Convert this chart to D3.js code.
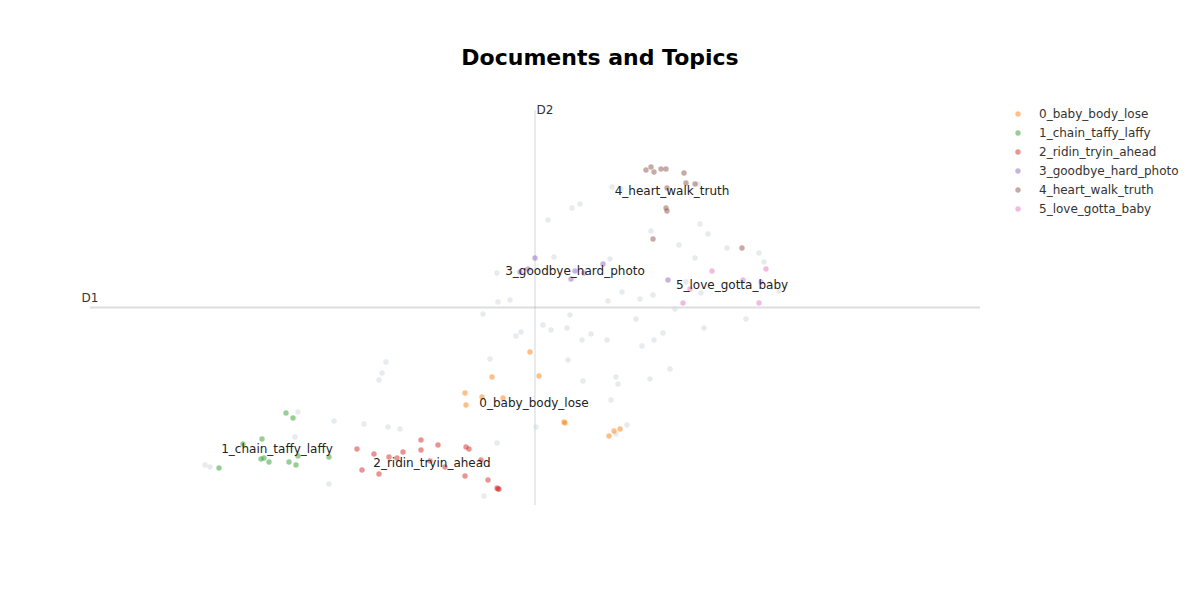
<!DOCTYPE html>
<html>
<head>
<meta charset="utf-8">
<script src="https://cdn.jsdelivr.net/npm/d3@7"></script>
<style>
  html, body { margin: 0; padding: 0; background: #fff; }
  svg { display: block; }
</style>
</head>
<body>
<svg id="chart" width="1200" height="600"></svg>
<script>
// ---------- data ----------
const topicNames = ["0_baby_body_lose", "1_chain_taffy_laffy", "2_ridin_tryin_ahead",
                    "3_goodbye_hard_photo", "4_heart_walk_truth", "5_love_gotta_baby"];
const topicColors = ["#ff7f0e", "#2ca02c", "#d62728", "#9467bd", "#8c564b", "#e377c2"];

// [D1, D2] per document
const topic0 = [[4.40,1.53],[4.49,1.29],[4.02,1.28],[3.75,1.12],[3.92,1.08],[4.13,1.07],[3.76,1.00],
                [4.74,0.83],[4.75,0.82],[5.30,0.76],[5.24,0.74],[5.19,0.69]];
const topic1 = [[1.96,0.92],[2.03,0.87],[1.72,0.66],[1.53,0.61],[1.71,0.46],[1.74,0.47],[1.79,0.43],
                [1.99,0.43],[2.06,0.40],[2.39,0.48],[1.29,0.37],[2.08,0.49]];
const topic2 = [[2.67,0.56],[2.84,0.51],[2.99,0.48],[3.07,0.47],[3.13,0.53],[3.31,0.65],[3.31,0.55],
                [3.48,0.60],[3.76,0.58],[3.79,0.56],[3.55,0.38],[3.40,0.44],[3.91,0.45],[2.72,0.35],
                [2.89,0.31],[3.75,0.29],[3.98,0.25],[4.07,0.17],[4.09,0.16],[4.08,0.16]];
const topic3 = [[4.45,2.47],[4.38,2.36],[4.30,2.33],[4.85,2.34],[4.81,2.26],[4.94,2.32],[5.13,2.41],[5.78,2.25]];
const topic4 = [[5.56,3.35],[5.61,3.38],[5.64,3.33],[5.71,3.36],[5.76,3.36],[5.94,3.32],[5.96,3.22],
                [6.05,3.21],[5.77,3.17],[5.76,2.97],[5.77,2.94],[5.63,2.66],[6.52,2.57]];
const topic5 = [[6.22,2.34],[6.76,2.36],[6.53,2.25],[6.71,2.23],[6.00,2.16],[5.93,2.02],[6.69,2.02]];
const outliers = [[2.08,0.93],[2.44,0.84],[2.74,0.81],[2.98,0.78],[3.10,0.76],[2.05,0.68],[1.15,0.40],
                  [1.20,0.38],[2.39,0.21],[4.07,0.62],[3.94,0.09],[3.93,1.91],[4.53,1.80],[4.61,1.75],
                  [4.80,1.90],[4.77,1.77],[4.31,1.73],[4.26,1.69],[5.01,1.71],[4.92,1.65],[5.17,1.65],
                  [5.46,1.86],[5.52,1.59],[5.64,1.65],[5.73,1.72],[5.80,1.36],[4.00,1.46],[4.78,1.45],
                  [4.93,1.24],[5.26,1.28],[5.28,1.21],[5.60,1.26],[5.21,1.05],[4.46,0.78],[5.37,0.80],
                  [5.26,0.71],[5.22,3.18],[5.31,3.16],[6.08,3.21],[4.90,3.01],[4.82,2.97],[4.58,2.85],
                  [6.10,2.81],[5.61,2.74],[6.18,2.71],[5.89,2.60],[6.37,2.57],[6.69,2.52],[6.74,2.43],
                  [6.05,2.47],[4.64,2.48],[5.20,2.46],[4.07,2.32],[5.32,2.13],[5.50,2.06],[5.63,2.10],
                  [5.18,2.04],[4.20,2.05],[4.08,2.03],[6.11,2.12],[5.96,2.23],[5.85,1.96],[6.89,2.14],
                  [6.56,1.86],[6.14,1.77],[2.96,1.43],[2.92,1.32],[2.89,1.25]];
const topicPoints = [topic0, topic1, topic2, topic3, topic4, topic5];
// label positions (topic centroids)
const labelX = [4.44, 1.87, 3.42, 4.85, 5.82, 6.42];
const labelY = [1.02, 0.56, 0.42, 2.34, 3.145, 2.20];
const xDomain = [0, 8.9];
const yDomain = [0, 3.95];

// ---------- drawing ----------
const svg = d3.select("#chart");
const font = "'DejaVu Sans', Verdana, sans-serif";
const x = d3.scaleLinear().domain(xDomain).range([90, 980]);
const y = d3.scaleLinear().domain(yDomain).range([505, 110]);
const xMid = (xDomain[0] + xDomain[1]) / 2;
const yMid = (yDomain[0] + yDomain[1]) / 2;

// title
svg.append("text").attr("x", 600).attr("y", 65).attr("text-anchor", "middle")
  .attr("font-family", font).attr("font-size", 22).attr("font-weight", "bold")
  .attr("fill", "#000").text("Documents and Topics");

// axis cross lines
svg.append("line").attr("x1", x(xMid)).attr("x2", x(xMid)).attr("y1", y(yDomain[0])).attr("y2", y(yDomain[1]))
  .attr("stroke", "#CFD8DC").attr("stroke-opacity", 0.5).attr("stroke-width", 2);
svg.append("line").attr("x1", x(xDomain[0])).attr("x2", x(xDomain[1])).attr("y1", y(yMid)).attr("y2", y(yMid))
  .attr("stroke", "#9E9E9E").attr("stroke-opacity", 0.35).attr("stroke-width", 2);

svg.append("text").attr("x", x(xDomain[0])).attr("y", y(yMid) - 10).attr("dy", "0.35em")
  .attr("text-anchor", "middle").attr("font-family", font).attr("font-size", 12).attr("fill", "#333").text("D1");
svg.append("text").attr("x", x(xMid) + 10).attr("y", y(yDomain[1])).attr("dy", "0.35em")
  .attr("text-anchor", "middle").attr("font-family", font).attr("font-size", 12).attr("fill", "#333").text("D2");

// outliers
svg.append("g").selectAll("circle").data(outliers).join("circle")
  .attr("cx", d => x(d[0])).attr("cy", d => y(d[1])).attr("r", 2.7)
  .attr("fill", "#CFD8DC").attr("fill-opacity", 0.5);

// topic points
topicPoints.forEach((pts, i) => {
  svg.append("g").selectAll("circle").data(pts).join("circle")
    .attr("cx", d => x(d[0])).attr("cy", d => y(d[1])).attr("r", 2.7)
    .attr("fill", topicColors[i]).attr("fill-opacity", 0.5);
});

// topic labels
svg.append("g").selectAll("text").data(topicNames).join("text")
  .attr("x", (d, i) => x(labelX[i])).attr("y", (d, i) => y(labelY[i])).attr("dy", "0.35em")
  .attr("text-anchor", "middle").attr("font-family", font).attr("font-size", 12)
  .attr("fill", "#222").text(d => d);

// legend
const legend = svg.append("g").attr("transform", "translate(1018,114)");
const items = legend.selectAll("g").data(topicNames).join("g")
  .attr("transform", (d, i) => `translate(0,${i * 19})`);
items.append("circle").attr("r", 2.7).attr("fill", (d, i) => topicColors[i]).attr("fill-opacity", 0.5);
items.append("text").attr("x", 21).attr("dy", "0.35em").attr("font-family", font).attr("font-size", 12)
  .attr("fill", "#333").text(d => d);
</script>
</body>
</html>
